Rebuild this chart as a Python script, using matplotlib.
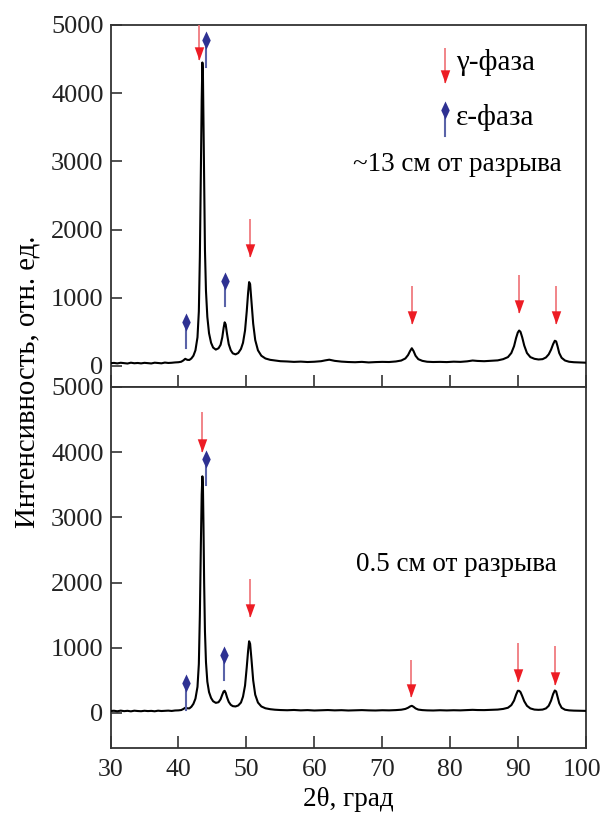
import matplotlib
matplotlib.use("Agg")
import matplotlib.pyplot as plt
import matplotlib.transforms as mtransforms
import numpy as np

plt.rcParams['font.family'] = ['Liberation Serif', 'DejaVu Serif']
plt.rcParams['mathtext.fontset'] = 'stix'

# ---------------- data ----------------
x_top = [30, 30.5, 31, 31.5, 32, 32.5, 33, 33.5, 34, 34.5, 35, 35.5, 36, 36.5, 37, 37.5, 38, 38.5, 39, 39.5,
         40, 40.4, 40.7, 41.0, 41.3, 41.6, 41.9, 42.2, 42.5, 42.8, 43.0, 43.15, 43.3, 43.42, 43.52, 43.6,
         43.68, 43.78, 43.9, 44.05, 44.25, 44.5, 44.8, 45.1, 45.5, 45.9, 46.2, 46.45, 46.65, 46.8, 46.95,
         47.15, 47.4, 47.7, 48.0, 48.4, 48.8, 49.2, 49.5, 49.8, 50.05, 50.25, 50.4, 50.55, 50.75, 51.0,
         51.3, 51.7, 52.2, 52.8, 53.5, 54.2, 55, 56, 57, 58, 59, 60, 61, 61.6, 62.2, 63, 64, 65, 66, 67,
         68, 69, 70, 71, 72, 72.8, 73.4, 73.8, 74.1, 74.35, 74.6, 74.9, 75.3, 75.9, 76.6, 77.5, 78.5,
         79.5, 80.5, 81.5, 82.5, 83.3, 84, 85, 86, 87, 87.8, 88.5, 89.0, 89.4, 89.7, 89.95, 90.15, 90.35,
         90.6, 90.9, 91.3, 91.8, 92.4, 93.0, 93.6, 94.1, 94.5, 94.85, 95.15, 95.4, 95.6, 95.8, 96.05,
         96.4, 96.9, 97.5, 98.2, 99, 100]
y_top = [40, 45, 38, 47, 42, 36, 48, 40, 44, 38, 46, 41, 37, 48, 43, 39, 50, 44, 47, 52,
         55, 62, 80, 105, 90, 88, 110, 150, 230, 420, 800, 1600, 2900, 3900, 4450, 4300,
         3600, 2600, 1700, 1100, 720, 480, 340, 270, 240, 260, 310, 420, 560, 640, 610,
         470, 320, 230, 185, 170, 190, 250, 340, 520, 800, 1070, 1230, 1200, 950, 620,
         380, 230, 150, 110, 90, 80, 70, 66, 60, 64, 58, 62, 70, 82, 92, 75, 64, 58, 55, 60,
         52, 57, 60, 58, 66, 80, 110, 160, 220, 260, 220, 150, 100, 75, 62, 58, 60,
         57, 63, 60, 68, 80, 74, 70, 76, 82, 100, 130, 190, 290, 410, 490, 520, 500,
         420, 300, 190, 130, 105, 95, 100, 125, 170, 240, 320, 370, 360, 290, 190,
         120, 80, 62, 55, 52, 48]

x_bot = [30, 30.5, 31, 31.5, 32, 32.5, 33, 33.5, 34, 34.5, 35, 35.5, 36, 36.5, 37, 37.5, 38, 38.5, 39, 39.5,
         40, 40.4, 40.7, 41.0, 41.3, 41.6, 41.9, 42.2, 42.5, 42.8, 43.0, 43.15, 43.3, 43.42, 43.52, 43.6,
         43.68, 43.78, 43.9, 44.05, 44.25, 44.5, 44.8, 45.1, 45.5, 45.9, 46.2, 46.45, 46.65, 46.8, 46.95,
         47.15, 47.4, 47.7, 48.0, 48.4, 48.8, 49.2, 49.5, 49.8, 50.05, 50.25, 50.4, 50.55, 50.75, 51.0,
         51.3, 51.7, 52.2, 52.8, 53.5, 54.2, 55, 56, 57, 58, 59, 60, 61, 62, 63, 64, 65, 66, 67,
         68, 69, 70, 71, 72, 72.8, 73.4, 73.8, 74.1, 74.35, 74.6, 74.9, 75.3, 75.9, 76.6, 77.5, 78.5,
         79.5, 80.5, 81.5, 82.5, 83.3, 84, 85, 86, 87, 87.8, 88.5, 89.0, 89.4, 89.7, 89.95, 90.15, 90.35,
         90.6, 90.9, 91.3, 91.8, 92.4, 93.0, 93.6, 94.1, 94.5, 94.85, 95.15, 95.4, 95.6, 95.8, 96.05,
         96.4, 96.9, 97.5, 98.2, 99, 100]
y_bot = [30, 34, 26, 36, 28, 33, 25, 35, 30, 27, 34, 29, 32, 26, 35, 30, 33, 36, 31, 38,
         40, 45, 60, 80, 72, 70, 95, 140, 220, 400, 750, 1500, 2600, 3350, 3630, 3500,
         2900, 2000, 1250, 780, 480, 320, 230, 180, 155, 165, 210, 280, 330, 340, 310,
         240, 170, 125, 105, 100, 115, 160, 250, 420, 700, 950, 1100, 1060, 820, 500,
         280, 160, 100, 72, 58, 50, 45, 42, 46, 40, 44, 38, 42, 45, 40, 43, 38, 41, 44,
         40, 38, 42, 40, 44, 50, 62, 80, 100, 110, 95, 70, 52, 44, 40, 38, 42,
         39, 42, 40, 44, 48, 45, 44, 48, 52, 62, 80, 120, 190, 280, 340, 340, 320,
         260, 180, 110, 70, 52, 48, 52, 70, 110, 190, 290, 345, 330, 250, 150,
         80, 50, 40, 36, 34, 32]

# gamma-phase arrows: x, line top, tip
g_top_x = [43.0, 50.5, 74.4, 90.1, 95.6]
g_top_y0 = [5000, 2150, 1170, 1330, 1170]
g_top_y1 = [4480, 1600, 620, 780, 620]
g_bot_x = [43.5, 50.5, 74.3, 90.0, 95.5]
g_bot_y0 = [4620, 2050, 820, 1080, 1020]
g_bot_y1 = [4000, 1470, 240, 480, 430]

# epsilon-phase diamonds: x, diamond centre, line bottom
e_top_x = [41.1, 44.1, 46.8]
e_top_yc = [650, 4780, 1250]
e_top_y1 = [260, 4380, 880]
e_bot_x = [41.1, 44.0, 46.7]
e_bot_yc = [460, 3890, 890]
e_bot_y1 = [50, 3500, 510]

xticks = [30, 40, 50, 60, 70, 80, 90, 100]
yticks = [0, 1000, 2000, 3000, 4000, 5000]

# ---------------- styling ----------------
RED = '#ed1c24'
RED_L = '#ef6f74'
BLUE = '#2e3192'
BLUE_L = '#5a63a8'
head = [(-0.36, 1.0), (0.36, 1.0), (0.0, 0.0)]
diamond = [(0, 1), (0.47, 0), (0, -1), (-0.47, 0)]

fig = plt.figure(figsize=(6.03, 8.14), dpi=100)
L, W = 0.1833, 0.7886
ax1 = fig.add_axes([L, 0.5246, W, 0.4447])
ax2 = fig.add_axes([L, 0.0811, W, 0.4435])

FS = 19


def style(ax, ylo, labels_x):
    ax.set_xlim(30, 100)
    ax.set_ylim(ylo, 5000)
    ax.set_xticks(xticks)
    ax.set_yticks(yticks)
    ax.tick_params(direction='in', length=8, width=1.1, colors='#222222',
                   labelsize=FS, pad=5)
    ax.tick_params(axis='x', length=9, pad=8, labelsize=18.5)
    if not labels_x:
        ax.tick_params(axis='x', labelbottom=False)
    for s in ax.spines.values():
        s.set_color('#333333')
        s.set_linewidth(1.3)


def arrows(ax, xs, y0s, y1s):
    for x, a, b in zip(xs, y0s, y1s):
        ax.plot([x, x], [a, b], color=RED_L, lw=1.2, solid_capstyle='butt', zorder=4, clip_on=False)
        ax.plot([x], [b], marker=head, markersize=19, color=RED, markeredgewidth=0, zorder=5, clip_on=False)


def diamonds(ax, xs, ycs, y1s):
    for x, c, b in zip(xs, ycs, y1s):
        ax.plot([x, x], [c, b], color=BLUE_L, lw=1.5, zorder=4)
        ax.plot([x], [c], marker=diamond, markersize=13, color=BLUE, markeredgewidth=0, zorder=5)


ax1.plot(x_top, y_top, color='black', lw=1.5, zorder=3)
ax2.plot(x_bot, y_bot, color='black', lw=1.5, zorder=3)
style(ax1, -308, False)
style(ax2, -537, True)

arrows(ax1, g_top_x, g_top_y0, g_top_y1)
diamonds(ax1, e_top_x, e_top_yc, e_top_y1)
arrows(ax2, g_bot_x, g_bot_y0, g_bot_y1)
diamonds(ax2, e_bot_x, e_bot_yc, e_bot_y1)

# legend inside top panel
arrows(ax1, [79.3], [4660], [4150])
diamonds(ax1, [79.3], [3755], [3370])
ax1.text(80.9, 4450, 'γ-фаза', fontsize=21, va='center', ha='left')
ax1.text(80.9, 3640, 'ε-фаза', fontsize=21, va='center', ha='left')
ax1.text(65.7, 2950, '~13 см от разрыва', fontsize=19.5, va='center', ha='left')
ax2.text(66.2, 2280, '0.5 см от разрыва', fontsize=19.5, va='center', ha='left')

ax2.set_xlabel('2θ, град', fontsize=FS + 0.5, labelpad=4)
fig.text(0.046, 0.531, 'Интенсивность, отн. ед.', rotation=90, fontsize=20.7,
         ha='center', va='center')

# keep the last x tick label inside the canvas
fig.canvas.draw()
last = ax2.get_xticklabels()[-1]
last.set_transform(last.get_transform() + mtransforms.ScaledTranslation(-4 / 100, 0, fig.dpi_scale_trans))

fig.savefig('out.png', dpi=100)
